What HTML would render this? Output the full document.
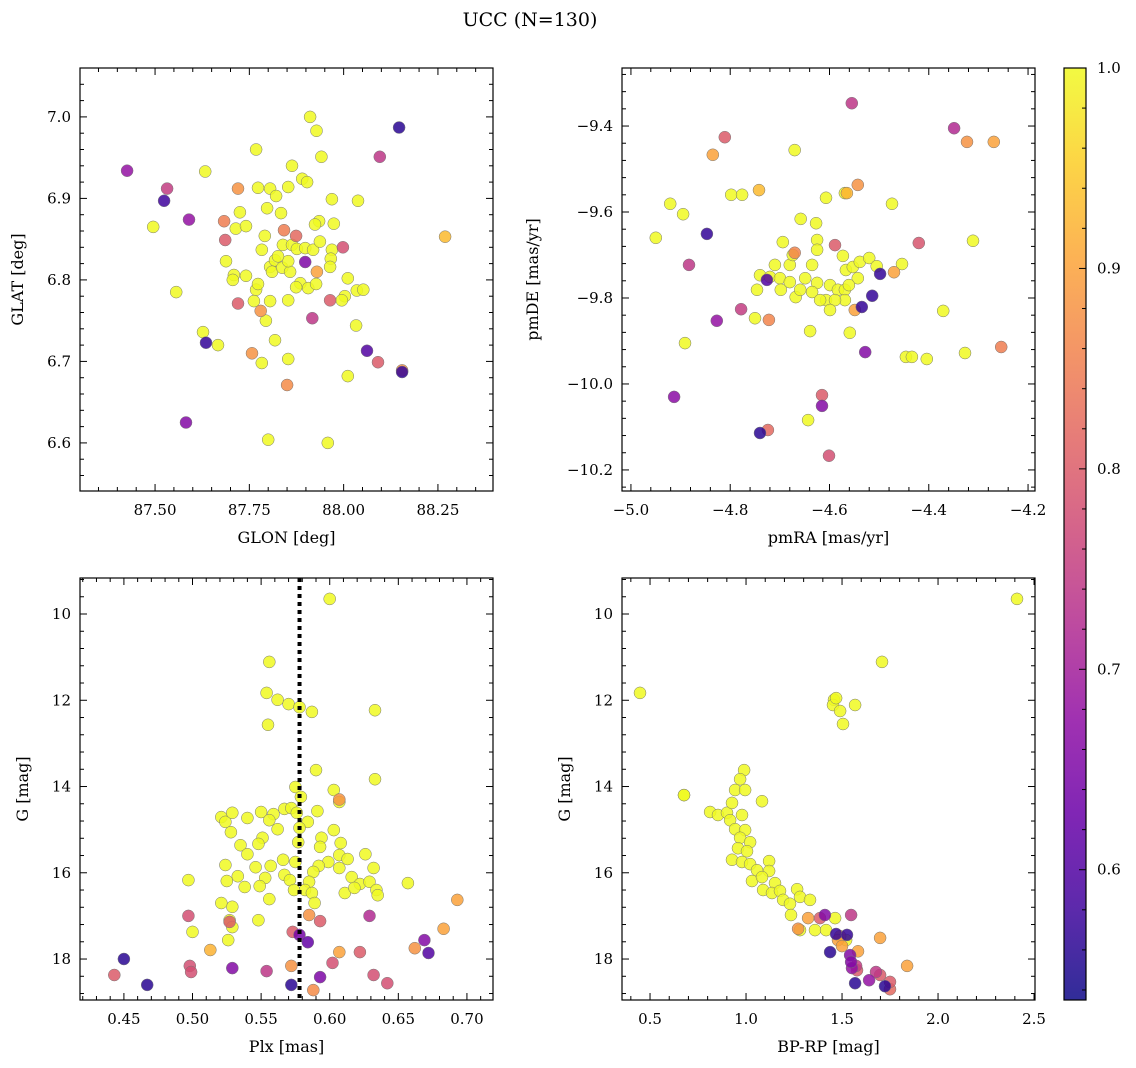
<!DOCTYPE html>
<html><head><meta charset="utf-8">
<style>
html,body{margin:0;padding:0;background:#fff;}
svg{display:block;font-family:"DejaVu Serif","Liberation Serif",serif;}
</style></head>
<body>
<svg id="fig" width="1136" height="1068" viewBox="0 0 1136 1068" xmlns="http://www.w3.org/2000/svg">
<rect width="1136" height="1068" fill="#fff"/>
<text x="530" y="26" font-size="19" text-anchor="middle">UCC (N=130)</text>
<g id="layer"></g>
</svg>
<script>
// ---- Top-left: GLON / GLAT ----
const tlX = [87.426,87.532,87.524,87.590,87.720,87.683,87.686,87.720,87.635,87.757,87.582,87.850,87.842,87.874,87.898,87.917,87.964,87.998,87.929,88.096,88.147,88.062,88.091,88.155,88.155,88.269,87.780,
87.783,87.958,87.800,87.495,87.556,87.627,87.667,87.633,87.768,87.911,87.928,87.941,87.863,87.773,87.805,87.821,87.853,87.890,87.903,87.969,88.038,87.935,87.924,87.974,87.797,87.834,87.725,87.714,87.741,87.791,87.783,87.839,87.863,87.876,87.898,87.919,87.937,87.969,87.966,87.964,87.688,87.709,87.706,87.741,87.768,87.773,87.805,87.818,87.810,87.837,87.858,87.853,87.826,87.885,87.874,87.906,87.853,87.805,87.794,87.818,87.853,88.011,88.003,88.035,88.052,87.995,88.011,88.033,87.762,87.927];
const tlY = [6.934,6.912,6.897,6.874,6.912,6.872,6.849,6.771,6.723,6.710,6.625,6.671,6.861,6.854,6.822,6.753,6.775,6.840,6.810,6.951,6.987,6.713,6.699,6.689,6.687,6.853,6.762,
6.698,6.600,6.604,6.865,6.785,6.736,6.720,6.933,6.960,7.000,6.983,6.951,6.940,6.913,6.912,6.903,6.914,6.924,6.920,6.899,6.897,6.872,6.868,6.869,6.888,6.882,6.883,6.863,6.866,6.854,6.837,6.843,6.843,6.838,6.839,6.837,6.847,6.837,6.826,6.816,6.823,6.806,6.800,6.805,6.788,6.795,6.816,6.824,6.810,6.815,6.810,6.823,6.829,6.796,6.791,6.790,6.775,6.774,6.750,6.726,6.703,6.802,6.780,6.787,6.788,6.775,6.682,6.744,6.774,6.795];
const tlP = [0.68,0.75,0.58,0.68,0.88,0.85,0.80,0.80,0.57,0.88,0.66,0.87,0.85,0.82,0.65,0.74,0.80,0.78,0.90,0.74,0.56,0.60,0.80,0.88,0.57,0.93,0.88];

// ---- Top-right: pmRA / pmDE ----
const trX = [-4.555,-4.811,-4.835,-4.349,-4.269,-4.323,-4.847,-4.883,-4.778,-4.827,-4.722,-4.726,-4.742,-4.913,-4.740,-4.724,-4.615,-4.615,-4.601,-4.543,-4.565,-4.498,-4.514,-4.535,-4.528,-4.420,-4.254,-4.549,-4.470,-4.670,-4.589,
-4.950,-4.921,-4.895,-4.891,-4.798,-4.776,-4.670,-4.658,-4.627,-4.625,-4.607,-4.569,-4.474,-4.311,-4.371,-4.446,-4.434,-4.404,-4.327,-4.643,-4.694,-4.740,-4.746,-4.720,-4.700,-4.680,-4.698,-4.668,-4.680,-4.649,-4.635,-4.625,-4.635,-4.599,-4.607,-4.583,-4.567,-4.569,-4.569,-4.553,-4.543,-4.561,-4.539,-4.520,-4.505,-4.454,-4.573,-4.589,-4.599,-4.619,-4.559,-4.639,-4.750,-4.674,-4.710,-4.659,-4.625];
const trY = [-9.347,-9.426,-9.467,-9.405,-9.437,-9.437,-9.651,-9.723,-9.826,-9.853,-9.851,-9.758,-9.549,-10.030,-10.114,-10.107,-10.026,-10.051,-10.167,-9.537,-9.556,-9.744,-9.795,-9.821,-9.926,-9.672,-9.914,-9.828,-9.740,-9.695,-9.677,
-9.660,-9.581,-9.605,-9.905,-9.560,-9.560,-9.456,-9.616,-9.626,-9.665,-9.567,-9.556,-9.581,-9.667,-9.830,-9.937,-9.937,-9.942,-9.928,-10.084,-9.670,-9.747,-9.781,-9.751,-9.754,-9.763,-9.781,-9.798,-9.723,-9.754,-9.723,-9.765,-9.786,-9.770,-9.805,-9.781,-9.735,-9.781,-9.805,-9.728,-9.754,-9.770,-9.716,-9.707,-9.726,-9.721,-9.702,-9.805,-9.828,-9.805,-9.881,-9.877,-9.847,-9.700,-9.723,-9.781,-9.688];
const trP = [0.74,0.80,0.90,0.72,0.90,0.88,0.57,0.74,0.75,0.68,0.86,0.60,0.93,0.67,0.56,0.82,0.80,0.66,0.78,0.88,0.92,0.57,0.57,0.57,0.66,0.79,0.85,0.90,0.90,0.86,0.80];

// ---- Bottom-left: Plx / G ----
const blX = [0.450,0.443,0.467,0.497,0.498,0.499,0.527,0.529,0.554,0.572,0.572,0.578,0.584,0.585,0.588,0.593,0.593,0.602,0.607,0.607,0.622,0.629,0.632,0.642,0.662,0.669,0.672,0.683,0.693,0.513,0.573,
0.600,0.556,0.554,0.555,0.562,0.570,0.578,0.587,0.633,0.633,0.590,0.521,0.524,0.529,0.540,0.550,0.559,0.567,0.572,0.576,0.575,0.579,0.577,0.591,0.607,0.603,0.584,0.594,0.603,0.608,0.593,0.607,0.613,0.607,0.599,0.592,0.588,0.585,0.582,0.575,0.566,0.557,0.567,0.553,0.546,0.538,0.533,0.525,0.524,0.535,0.528,0.551,0.556,0.562,0.548,0.540,0.529,0.527,0.529,0.549,0.556,0.571,0.574,0.587,0.589,0.616,0.622,0.632,0.629,0.634,0.635,0.611,0.626,0.618,0.497,0.500,0.526,0.548,0.578,0.657,0.521];
const blY = [18.00,18.37,18.60,17.00,18.16,18.30,17.14,18.21,18.28,18.16,18.60,17.44,17.61,16.98,18.72,18.42,17.12,18.09,17.84,14.30,17.84,17.00,18.37,18.56,17.75,17.56,17.86,17.30,16.63,17.79,17.37,
9.65,11.11,11.83,12.57,11.99,12.09,12.16,12.27,12.23,13.83,13.62,14.71,14.82,14.61,14.73,14.59,14.64,14.52,14.50,14.61,14.01,14.24,15.29,14.57,14.36,14.08,14.82,15.19,15.01,15.31,15.40,15.59,15.68,15.89,15.75,15.84,15.98,16.21,16.40,15.75,15.70,15.84,16.05,16.12,15.87,16.33,16.08,16.19,15.82,15.36,15.06,15.19,14.78,14.99,15.33,15.57,16.79,17.10,17.26,16.31,16.61,16.17,16.40,16.47,16.70,16.10,16.26,15.89,16.21,16.40,16.52,16.47,15.57,16.35,16.17,17.37,17.56,17.10,14.96,16.24,16.70];
const blP = [0.56,0.80,0.56,0.78,0.78,0.78,0.80,0.66,0.74,0.88,0.56,0.64,0.62,0.88,0.87,0.65,0.80,0.78,0.90,0.88,0.80,0.72,0.78,0.78,0.88,0.66,0.60,0.90,0.90,0.92,0.80];
const plxMean = 0.578;

// ---- Bottom-right: BP-RP / G ----
const brX = [1.323,1.271,1.385,1.469,1.411,1.547,1.479,1.490,1.542,1.438,1.547,1.552,1.578,1.573,1.583,1.568,1.500,1.526,1.677,1.698,1.641,1.724,1.750,1.750,1.698,1.839,
0.448,0.677,2.411,1.708,1.458,1.453,1.490,1.505,1.568,1.469,0.990,0.969,0.943,0.995,1.083,0.677,0.813,0.854,0.901,0.927,0.917,0.979,0.943,0.995,0.969,1.021,0.958,1.005,0.927,0.979,1.021,1.120,1.057,1.120,1.031,1.083,1.151,1.089,1.135,1.177,1.193,1.266,1.281,1.229,1.333,1.234,1.281,1.359,1.464,1.417,1.521];
const brY = [17.05,17.30,17.05,17.42,16.98,16.98,17.56,17.47,17.91,17.84,18.07,18.21,18.26,18.16,17.82,18.56,17.70,17.44,18.30,18.37,18.49,18.63,18.53,18.70,17.51,18.16,
11.83,14.20,9.65,11.11,11.99,12.11,12.25,12.55,12.11,11.95,13.62,13.83,14.08,14.08,14.34,14.20,14.59,14.66,14.61,14.38,14.78,14.66,14.99,15.01,15.19,15.29,15.43,15.50,15.70,15.75,15.80,15.73,15.94,15.96,16.19,16.10,16.24,16.40,16.47,16.42,16.63,16.38,16.56,16.72,16.63,16.98,17.33,17.33,17.05,17.33,17.56];
const brP = [0.90,0.88,0.80,0.57,0.66,0.74,0.90,0.92,0.66,0.56,0.66,0.68,0.80,0.75,0.90,0.56,0.90,0.57,0.74,0.80,0.68,0.56,0.80,0.82,0.90,0.90];

// tick labels
const tlXTicks = [87.50,87.75,88.00,88.25], tlYTicks = [6.6,6.7,6.8,6.9,7.0];
const trXTicks = [-5.0,-4.8,-4.6,-4.4,-4.2], trYTicks = [-10.2,-10.0,-9.8,-9.6,-9.4];
const blXTicks = [0.45,0.50,0.55,0.60,0.65,0.70], gTicks = [10,12,14,16,18];
const brXTicks = [0.5,1.0,1.5,2.0,2.5];
const cbTicks = [0.6,0.7,0.8,0.9,1.0];
const P_DEFAULT = 1.0, VMIN = 0.535, VMAX = 1.0;

const NS = "http://www.w3.org/2000/svg";
const layer = document.getElementById('layer');
function mk(tag, attrs, parent){const e=document.createElementNS(NS,tag);for(const k in attrs)e.setAttribute(k,attrs[k]);(parent||layer).appendChild(e);return e;}

const stops=[[13,8,135],[65,4,157],[106,0,168],[143,13,164],[177,42,144],[204,71,120],[225,100,98],[242,132,75],[252,166,54],[252,206,37],[240,249,33]];
function plasma(t){t=Math.max(0,Math.min(1,t))*10;const i=Math.min(9,Math.floor(t)),f=t-i,a=stops[i],b=stops[i+1];
return `rgb(${Math.round(a[0]+(b[0]-a[0])*f)},${Math.round(a[1]+(b[1]-a[1])*f)},${Math.round(a[2]+(b[2]-a[2])*f)})`;}
function cmap(p){return plasma((p-VMIN)/(VMAX-VMIN));}

function fmt(v,d){return v.toFixed(d).replace('-','\u2212');}

function panel(cfg){
  const g=mk('g',{});
  
  
  const sx=v=>cfg.px0+(v-cfg.xmin)/(cfg.xmax-cfg.xmin)*(cfg.px1-cfg.px0);
  const sy=cfg.inv? (v=>cfg.py0+(v-cfg.ymin)/(cfg.ymax-cfg.ymin)*(cfg.py1-cfg.py0)) : (v=>cfg.py1-(v-cfg.ymin)/(cfg.ymax-cfg.ymin)*(cfg.py1-cfg.py0));
  const pts=mk('g',{},g);
  
  
  const n=cfg.xs.length, order=[];
  for(let i=0;i<n;i++)order.push(i);
  order.sort((a,b)=>{const pa=a<cfg.ps.length?cfg.ps[a]:P_DEFAULT, pb=b<cfg.ps.length?cfg.ps[b]:P_DEFAULT; return pb-pa;});
  order.forEach(i=>{
    const p=i<cfg.ps.length?cfg.ps[i]:P_DEFAULT;
    const c=mk('circle',{cx:sx(cfg.xs[i]).toFixed(1),cy:sy(cfg.ys[i]).toFixed(1),r:6,fill:cmap(p),'fill-opacity':0.85,stroke:'#777','stroke-width':0.5},pts);
    
    
  });
  if(cfg.vline!==undefined){
    const l=mk('line',{x1:sx(cfg.vline),x2:sx(cfg.vline),y1:cfg.py0,y2:cfg.py1,stroke:'#000','stroke-width':4,'stroke-dasharray':'4,4'},g);
    
    
  }
  const fr=mk('rect',{x:cfg.px0,y:cfg.py0,width:cfg.px1-cfg.px0,height:cfg.py1-cfg.py0,fill:'none',stroke:'#000','stroke-width':1.2},g);
  
  
  const tk=mk('g',{stroke:'#000','stroke-width':1},g);
  const xlo=Math.ceil(cfg.xmin/cfg.xminor-1e-6), xhi=Math.floor(cfg.xmax/cfg.xminor+1e-6);
  for(let k=xlo;k<=xhi;k++){const v=k*cfg.xminor,x=sx(v),maj=Math.abs(v/cfg.xmajor-Math.round(v/cfg.xmajor))<1e-4,L=maj?7:4;
    mk('line',{x1:x,x2:x,y1:cfg.py1,y2:cfg.py1-L},tk);mk('line',{x1:x,x2:x,y1:cfg.py0,y2:cfg.py0+L},tk);}
  const ylo=Math.ceil(cfg.ymin/cfg.yminor-1e-6), yhi=Math.floor(cfg.ymax/cfg.yminor+1e-6);
  for(let k=ylo;k<=yhi;k++){const v=k*cfg.yminor,y=sy(v),maj=Math.abs(v/cfg.ymajor-Math.round(v/cfg.ymajor))<1e-4,L=maj?7:4;
    mk('line',{y1:y,y2:y,x1:cfg.px0,x2:cfg.px0+L},tk);mk('line',{y1:y,y2:y,x1:cfg.px1,x2:cfg.px1-L},tk);}
  cfg.xt.forEach(v=>{const t=mk('text',{x:sx(v),y:cfg.py1+24,'font-size':15,'text-anchor':'middle'},g);t.textContent=fmt(v,cfg.xd);
    });
  cfg.yt.forEach(v=>{const t=mk('text',{x:cfg.px0-9,y:sy(v)+5,'font-size':15,'text-anchor':'end'},g);t.textContent=fmt(v,cfg.yd);
    });
  const xl=mk('text',{x:(cfg.px0+cfg.px1)/2,y:cfg.py1+52,'font-size':16,'text-anchor':'middle'},g);xl.textContent=cfg.xlabel;
  
  const yx=cfg.ylx, yc=(cfg.py0+cfg.py1)/2;
  const yl=mk('text',{x:yx,y:yc,'font-size':16,'text-anchor':'middle',transform:`rotate(-90 ${yx} ${yc})`},g);yl.textContent=cfg.ylabel;
  
}

panel({name:'glon-glat-panel',xs:tlX,ys:tlY,ps:tlP,px0:80,px1:493,py0:68,py1:491,xmin:87.301,xmax:88.396,ymin:6.541,ymax:7.060,
  xmajor:0.25,xminor:0.05,ymajor:0.1,yminor:0.02,xt:tlXTicks,yt:tlYTicks,xd:2,yd:1,xlabel:'GLON [deg]',ylabel:'GLAT [deg]',ylx:23});
panel({name:'proper-motion-panel',xs:trX,ys:trY,ps:trP,px0:622,px1:1035,py0:68,py1:491,xmin:-5.018,xmax:-4.186,ymin:-10.249,ymax:-9.265,
  xmajor:0.2,xminor:0.04,ymajor:0.2,yminor:0.04,xt:trXTicks,yt:trYTicks,xd:1,yd:1,xlabel:'pmRA [mas/yr]',ylabel:'pmDE [mas/yr]',ylx:538});
panel({name:'plx-g-panel',xs:blX,ys:blY,ps:blP,px0:80,px1:493,py0:578,py1:1000,xmin:0.418,xmax:0.719,ymin:9.165,ymax:18.95,inv:true,vline:plxMean,
  xmajor:0.05,xminor:0.01,ymajor:2,yminor:0.4,xt:blXTicks,yt:gTicks,xd:2,yd:0,xlabel:'Plx [mas]',ylabel:'G [mag]',ylx:28});
panel({name:'cmd-panel',xs:brX,ys:brY,ps:brP,px0:622,px1:1035,py0:578,py1:1000,xmin:0.354,xmax:2.505,ymin:9.165,ymax:18.95,inv:true,
  xmajor:0.5,xminor:0.1,ymajor:2,yminor:0.4,xt:brXTicks,yt:gTicks,xd:1,yd:0,xlabel:'BP-RP [mag]',ylabel:'G [mag]',ylx:570});

(function(){
  const g=mk('g',{});
  
  
  const x0=1064,x1=1086,y0=68,y1=1000;
  const defs=mk('defs',{},g);
  const lg=mk('linearGradient',{id:'cbg',x1:0,y1:1,x2:0,y2:0},defs);
  for(let i=0;i<=20;i++){mk('stop',{offset:(i/20),'stop-color':plasma(i/20)},lg);}
  mk('rect',{x:x0,y:y0,width:x1-x0,height:y1-y0,fill:'url(#cbg)','fill-opacity':0.85},g);
  mk('rect',{x:x0,y:y0,width:x1-x0,height:y1-y0,fill:'none',stroke:'#000','stroke-width':1.2},g);
  const sy=v=>y1-(v-VMIN)/(VMAX-VMIN)*(y1-y0);
  for(let k=27;k<=50;k++){const v=k*0.02;if(v<VMIN||v>VMAX+1e-9)continue;const y=sy(v),maj=(k%5===0);
    mk('line',{x1:x1,x2:x1-(maj?7:4),y1:y,y2:y,stroke:'#000'},g);}
  cbTicks.forEach(v=>{const t=mk('text',{x:x1+11,y:sy(v)+5,'font-size':15},g);t.textContent=v.toFixed(1);
    });
})();
</script>
</body></html>
